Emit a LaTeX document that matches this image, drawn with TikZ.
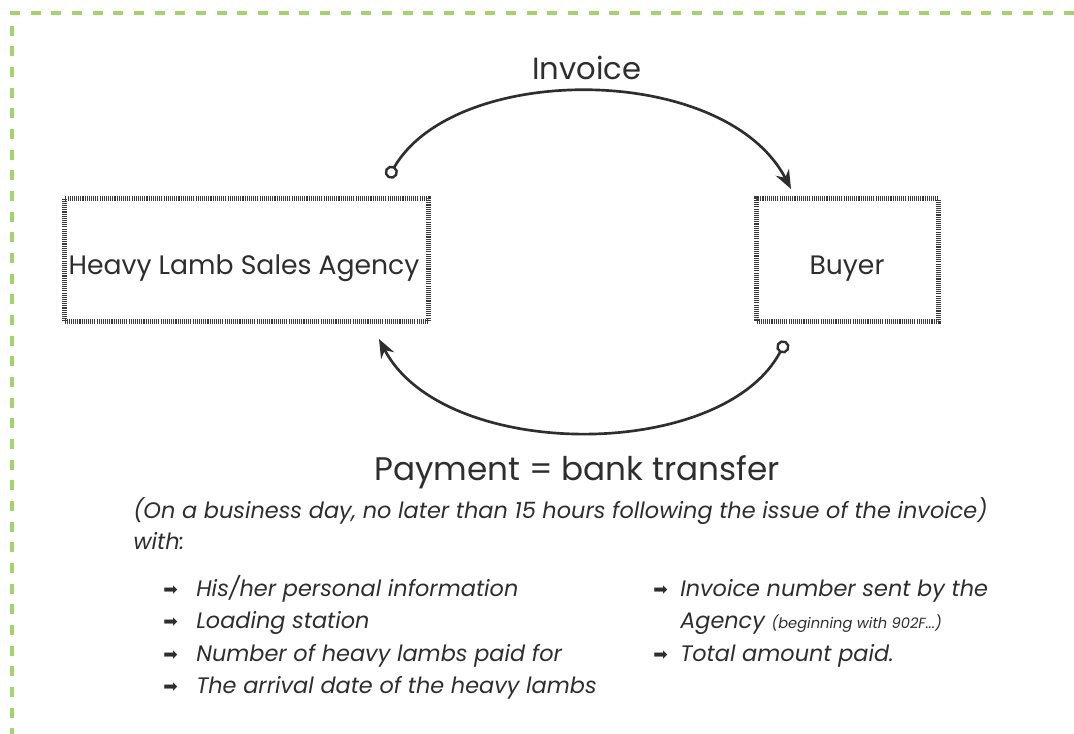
\documentclass[tikz,border=0pt]{standalone}
\usepackage{fontspec}
\setmainfont{Poppins}
\newfontfamily\symfont{DejaVu Sans}
\usetikzlibrary{arrows.meta}
\definecolor{ink}{HTML}{2E2E2E}
\definecolor{frameGreen}{HTML}{A2D36C}
\definecolor{hatchLight}{HTML}{8C8C8C}
\definecolor{hatchDark}{HTML}{3A3A3A}
\begin{document}
\begin{tikzpicture}[x=0.75pt,y=-0.75pt,
  hatchbox/.style={inner sep=0pt,
    preaction={draw=hatchLight,line width=4.4pt},
    draw=hatchDark,line width=4.4pt,dash pattern=on 0.8pt off 0.8pt},
  flow/.style={draw=ink,line width=2pt,{Circle[open,length=10pt,width=10pt,line width=1.8pt]}-{Stealth[length=14pt,width=11pt]}},
  bigtext/.style={text=ink,inner sep=0pt,anchor=base},
  itemtext/.style={text=ink,inner sep=0pt,anchor=base west,font=\fontsize{16.8}{20}\selectfont\itshape},
  bullet/.style={text=ink,inner sep=0pt,anchor=base west,font=\fontsize{13}{14}\selectfont\symfont}]
\useasboundingbox (0,0) rectangle (1074,734);
% dashed frame along the top and left
\draw[frameGreen,line width=2.4pt,dash pattern=on 7.5pt off 8pt]
  (1074,13) -- (12,13) -- (12,734);

% the two parties
\node[hatchbox,minimum width=364*0.75pt,minimum height=123*0.75pt] (agency) at (246.5,260) {};
\node[hatchbox,minimum width=182*0.75pt,minimum height=123*0.75pt] (buyer) at (847.5,260) {};
\node[bigtext,font=\fontsize{20}{24}\selectfont] (agencyName) at (244,275) {Heavy Lamb Sales Agency};
\node[bigtext,font=\fontsize{20}{24}\selectfont] (buyerName) at (847,275) {Buyer};

% ends of the two flows
\coordinate (invStart) at (388,178);
\coordinate (invEnd) at (791,189);
\coordinate (payStart) at (786,341);
\coordinate (payEnd) at (379,339);

\draw[flow] (invStart) .. controls (455,62) and (725,62) .. (invEnd);
\draw[flow] (payStart) .. controls (722,462) and (443,462) .. (payEnd);

\node[bigtext,font=\fontsize{23}{28}\selectfont] (invoice) at (587,80) {Invoice};
\node[bigtext,font=\fontsize{24.5}{30}\selectfont] (payment) at (577,480) {Payment = bank transfer};

\node[itemtext] (cond) at (133,518) {(On a business day, no later than 15 hours following the issue of the invoice)};
\node[itemtext] (with) at (133,549) {with:};

% left column of details
\node[bullet] (b1) at (163,595) {➡};
\node[itemtext] (t1) at (196,596) {His/her personal information};
\node[bullet] (b2) at (163,627) {➡};
\node[itemtext] (t2) at (196,628) {Loading station};
\node[bullet] (b3) at (163,660) {➡};
\node[itemtext] (t3) at (196,661) {Number of heavy lambs paid for};
\node[bullet] (b4) at (163,692) {➡};
\node[itemtext] (t4) at (196,693) {The arrival date of the heavy lambs};

% right column of details
\node[bullet] (b5) at (653,595) {➡};
\node[itemtext] (t5) at (680,596) {Invoice number sent by the};
\node[itemtext] (t6) at (680,628) {Agency {\fontsize{11}{12}\selectfont (beginning with 902F...)}};
\node[bullet] (b7) at (653,660) {➡};
\node[itemtext] (t7) at (680,661) {Total amount paid.};
\end{tikzpicture}
\end{document}
